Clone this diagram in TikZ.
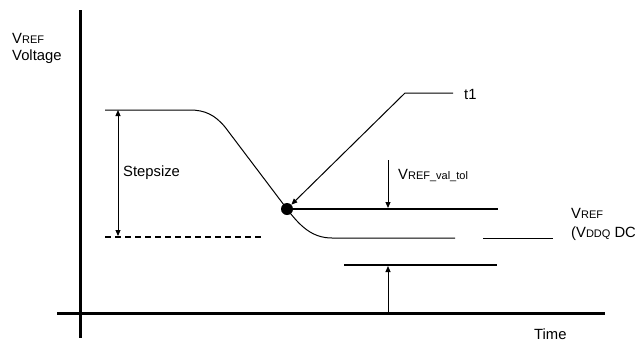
\documentclass[tikz,border=0pt]{standalone}
\usepackage{fontspec}
\setmainfont{Liberation Sans}
\usetikzlibrary{arrows.meta}
\newcommand{\sm}[1]{{\fontsize{11}{12}\selectfont #1}}
\begin{document}
\begin{tikzpicture}[x=1pt,y=-1pt,
  lbl/.style={inner sep=0pt,font=\fontsize{14.8}{16}\selectfont},
  axisline/.style={line width=3pt},
  tolline/.style={line width=2pt},
  thin1/.style={line width=1pt},
  arr/.style={line width=1pt,-{Triangle[length=6pt,width=5pt]}},
  darr/.style={line width=1pt,{Triangle[length=6pt,width=5pt]}-{Triangle[length=6pt,width=5pt]}}]
\useasboundingbox (0,0) rectangle (635,341);
% axes
\coordinate (yt) at (80,10);
\coordinate (yb) at (80,338);
\coordinate (xl) at (57,313);
\coordinate (xr) at (605,313);
\draw[axisline] (yt) -- (yb);
\draw[axisline] (xl) -- (xr);
% labels
\node[lbl,anchor=west] (vref) at (12,38) {V\sm{REF}};
\node[lbl,anchor=west] (volt) at (12,57) {Voltage};
\node[lbl,anchor=west] (time) at (534,334) {Time};
% curve
\coordinate (c0) at (105,110);
\coordinate (c1) at (190,110);
\coordinate (c2) at (225,127);
\node[circle,fill=black,inner sep=0pt,minimum size=12pt] (dot) at (287,209) {};
\coordinate (c3) at (332,238);
\coordinate (c4) at (455,238);
\draw[thin1] (c0) -- (c1) .. controls (205,110) and (215,115) .. (c2) -- (dot.center)
  .. controls (300,226) and (312,238) .. (c3) -- (c4);
\coordinate (c5) at (483,238);
\coordinate (c6) at (553,238);
\draw[thin1] (c5) -- (c6);
% dashed
\coordinate (d0) at (105,237);
\coordinate (d1) at (262,237);
\draw[line width=1.5pt,dash pattern=on 6pt off 4pt] (d0) -- (d1);
% stepsize arrow
\coordinate (s0) at (118,110);
\coordinate (s1) at (118,236);
\draw[darr] (s0) -- (s1);
\node[lbl,anchor=west] (step) at (123,173) {Stepsize};
% tolerance lines
\coordinate (u1) at (498,209);
\draw[tolline] (dot.center) -- (u1);
\coordinate (l0) at (344,265);
\coordinate (l1) at (497,265);
\draw[tolline] (l0) -- (l1);
% tolerance arrows
\coordinate (ta) at (388,160);
\coordinate (tb) at (388,208);
\draw[arr] (ta) -- (tb);
\coordinate (tc) at (388,312);
\coordinate (td) at (388,266);
\draw[arr] (tc) -- (td);
\node[lbl,anchor=west] (tol) at (398,175) {V\sm{REF\_val\_tol}};
% t1 leader
\node[lbl,anchor=west] (t1) at (464,94) {t1};
\coordinate (k0) at (453,93);
\coordinate (k1) at (405,93);
\draw[arr] (k0) -- (k1) -- (dot.north east);
% right label
\node[lbl,anchor=west] (vr1) at (571,213) {V\sm{REF}};
\node[lbl,anchor=west] (vr2) at (571,234) {(V\sm{DDQ} DC)};
\end{tikzpicture}
\end{document}
